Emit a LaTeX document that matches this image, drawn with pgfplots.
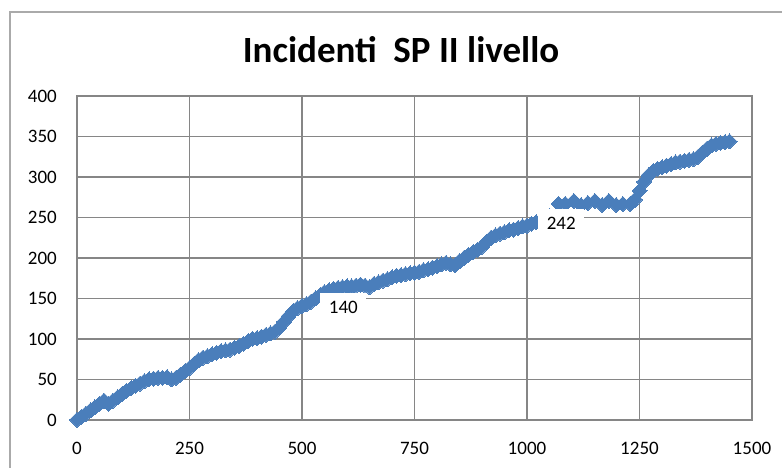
\documentclass[border=0pt]{standalone}
\usepackage{pgfplots}
\pgfplotsset{compat=1.18}
\usepackage{fontspec}
\setmainfont{Carlito}
\definecolor{serie}{RGB}{74,126,187}
\definecolor{gridc}{RGB}{134,134,134}
\definecolor{framec}{RGB}{170,170,170}
\pgfplotstableread{
x y
0 0
10 4
20 8
30 12
40 16
50 20
60 24
70 20
80 24
90 28
100 32
110 36
120 39
130 42
140 45
150 48
160 50
170 51
180 52
190 52
200 53
210 50
220 52
230 56
240 60
250 64
260 69
270 74
280 77
290 79
300 81
310 83
320 85
330 86
340 87
350 89
360 91
370 94
380 97
390 100
400 101
410 103
420 105
430 107
440 109
450 114
460 121
470 128
480 134
490 138
500 141
510 143
520 146
530 150
540 154
550 158
560 160
570 162
580 163
590 164
600 165
610 165
620 166
630 167
640 166
650 164
660 168
670 170
680 172
690 174
700 176
710 178
720 179
730 180
740 181
750 182
760 183
770 185
780 186
790 188
800 190
810 192
820 194
830 192
840 191
850 196
860 200
870 204
880 207
890 210
900 214
910 220
920 225
930 228
940 230
950 232
960 234
970 235
980 237
990 239
1000 240
1010 242
1020 244
1030 246
1040 248
1050 252
1070 266.7
1085 266.7
1104 270.4
1120 265.4
1135 267.9
1151 270.4
1167 265.4
1182 270.4
1198 265.4
1213 266.7
1229 266.7
1240 272
1250 283
1260 294
1270 302
1280 307
1290 310
1300 312
1310 314
1320 316
1330 318
1340 319
1350 320
1360 321
1370 322
1380 325
1390 330
1400 335
1410 339
1420 341
1430 342
1440 343
1450 344
}\datatable
\begin{document}
\begin{tikzpicture}
\useasboundingbox (0pt,0pt) rectangle (782pt,468pt);
\draw[framec, line width=1.5pt] (10pt,0pt) -- (10pt,456pt) -- (782pt,456pt);
\node[font=\fontsize{37}{40}\selectfont\bfseries] at (401pt,418pt) {Incidenti\ \ SP II livello};
\begin{axis}[at={(77pt,48pt)}, anchor=south west, scale only axis,
  width=675pt, height=324pt,
  xmin=0, xmax=1500, ymin=0, ymax=400,
  xtick={0,250,...,1500}, ytick={0,50,...,400},
  grid=major, major grid style={gridc, line width=1.3pt},
  axis line style={gridc, line width=1.3pt},
  major tick length=0pt,
  tick label style={font=\fontsize{19}{20}\selectfont},
  /pgf/number format/assume math mode=true,
  scaled ticks=false,
  /pgf/number format/set thousands separator={},
  xticklabel style={anchor=north, inner sep=0pt, yshift=-22pt},
  yticklabel style={anchor=east, inner sep=0pt, xshift=-20pt},
  clip=false]
\addplot[only marks, mark=diamond*, mark size=7.5pt, color=serie, mark options={draw=serie, fill=serie, xscale=1.333, line width=0pt}] table[x=x, y=y] {\datatable};
\coordinate (labA) at (axis cs:592,139.5);
\coordinate (labB) at (axis cs:1076,242.6);
\end{axis}
\node[fill=white, inner sep=0pt, minimum width=46pt, minimum height=28pt, font=\fontsize{19}{20}\selectfont] at (labA) {140};
\node[fill=white, inner sep=0pt, minimum width=46pt, minimum height=28pt, font=\fontsize{19}{20}\selectfont] at (labB) {242};
\end{tikzpicture}
\end{document}
